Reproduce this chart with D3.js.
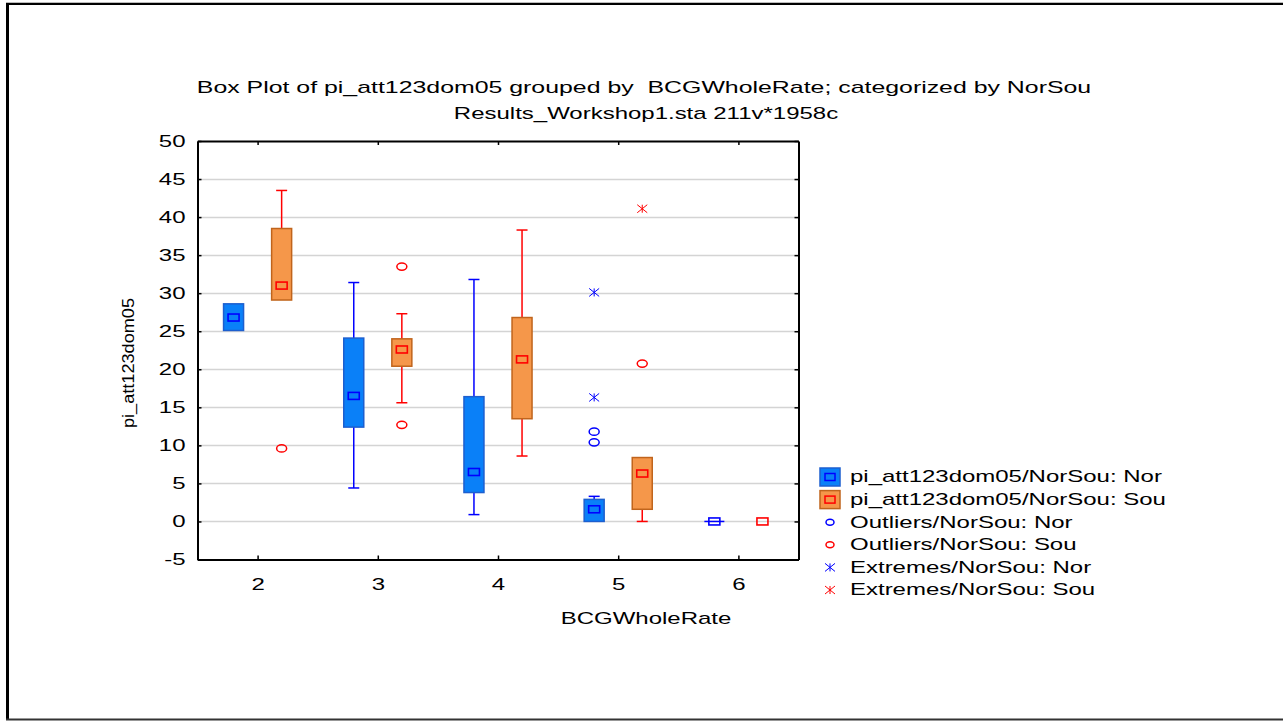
<!DOCTYPE html>
<html>
<head>
<meta charset="utf-8">
<script src="https://cdn.jsdelivr.net/npm/d3@7"></script>
<style>
html,body{margin:0;padding:0;background:#fff;}
svg{display:block;}
text{font-family:"Liberation Sans",Arial,sans-serif;fill:#000;white-space:pre;}
</style>
</head>
<body>
<svg id="chart" width="1283" height="721"></svg>
<script>
// ---------------- data ----------------
const categories = [2, 3, 4, 5, 6];
const yTicks = [-5, 0, 5, 10, 15, 20, 25, 30, 35, 40, 45, 50];

const norMin = [25.1, 4.4, 0.9, 0.0, 0.0];
const norQ1  = [25.1, 12.4, 3.8, 0.0, 0.0];
const norMed = [26.8, 16.5, 6.5, 1.6, 0.0];
const norQ3  = [28.6, 24.1, 16.4, 2.9, 0.0];
const norMax = [28.6, 31.4, 31.8, 3.3, 0.0];

const souMin = [29.1, 15.6, 8.6, 0.0, null];
const souQ1  = [29.1, 20.4, 13.5, 1.6, null];
const souMed = [31.0, 22.6, 21.3, 6.3, 0.0];
const souQ3  = [38.5, 24.0, 26.8, 8.4, null];
const souMax = [43.5, 27.3, 38.3, 8.4, null];

const norOutliers = [[5, 11.8], [5, 10.4]];
const souOutliers = [[2, 9.6], [3, 33.5], [3, 12.7], [5, 20.75]];
const norExtremes = [[5, 30.1], [5, 16.3]];
const souExtremes = [[5, 41.1]];

const titleLines = ["Box Plot of pi_att123dom05 grouped by  BCGWholeRate; categorized by NorSou",
                    "Results_Workshop1.sta 211v*1958c"];
const xTitle = "BCGWholeRate";
const yTitle = "pi_att123dom05";
const legendLabels = ["pi_att123dom05/NorSou: Nor", "pi_att123dom05/NorSou: Sou",
                      "Outliers/NorSou: Nor", "Outliers/NorSou: Sou",
                      "Extremes/NorSou: Nor", "Extremes/NorSou: Sou"];

// ---------------- setup ----------------
const svg = d3.select("#chart");
const SX = 1.5; // horizontal text stretch
const FS = 16;

const x = d3.scaleLinear().domain([1.5, 6.5]).range([197.5, 798.5]);
const y = d3.scaleLinear().domain([-5, 50]).range([559.5, 141]);
const off = 0.2; // group offset in x units
const boxW = 20, capW = 11;

const colors = {
  nor: {fill: "#0a80f8", stroke: "#1d5fcf", line: "#0000ff"},
  sou: {fill: "#f5974a", stroke: "#c0641c", line: "#ff0000"}
};

function stretchText(parent, tx, ty, str, anchor, size, sx) {
  const g = parent.append("g").attr("transform", `translate(${tx},${ty}) scale(${sx || SX},1)`);
  g.append("text").attr("text-anchor", anchor || "start")
    .attr("dominant-baseline", "central")
    .style("font-size", (size || FS) + "px").text(str);
  return g;
}

// outer frame
svg.append("line").attr("x1", 6).attr("x2", 1283).attr("y1", 2.5).attr("y2", 2.5).attr("stroke", "#bbb").attr("stroke-width", 1);
svg.append("line").attr("x1", 6).attr("x2", 1283).attr("y1", 4).attr("y2", 4).attr("stroke", "#000").attr("stroke-width", 2);
svg.append("line").attr("x1", 7.5).attr("x2", 7.5).attr("y1", 3).attr("y2", 720).attr("stroke", "#000").attr("stroke-width", 3);
svg.append("line").attr("x1", 6).attr("x2", 1283).attr("y1", 719.5).attr("y2", 719.5).attr("stroke", "#333").attr("stroke-width", 2);

// gridlines
svg.append("g").selectAll("line").data(yTicks.filter(t => t > -5 && t < 50)).join("line")
  .attr("x1", x(1.5)).attr("x2", x(6.5))
  .attr("y1", d => Math.round(y(d)) + 0.5).attr("y2", d => Math.round(y(d)) + 0.5)
  .attr("stroke", "#d4d4d4").attr("stroke-width", 1.3);

// axes (ticks pointing inward)
const fmt = d => String(d);
const axL = svg.append("g").attr("transform", `translate(${x(1.5)},0)`)
  .call(d3.axisLeft(y).tickValues(yTicks).tickSizeInner(-4).tickSizeOuter(0).tickPadding(12).tickFormat(fmt));
const axR = svg.append("g").attr("transform", `translate(${x(6.5)},0)`)
  .call(d3.axisRight(y).tickValues(yTicks).tickSizeInner(-4).tickSizeOuter(0).tickFormat(""));
const axB = svg.append("g").attr("transform", `translate(0,${y(-5)})`)
  .call(d3.axisBottom(x).tickValues(categories).tickSizeInner(-4).tickSizeOuter(0).tickPadding(18).tickFormat(fmt));
const axT = svg.append("g").attr("transform", `translate(0,${y(50)})`)
  .call(d3.axisTop(x).tickValues(categories).tickSizeInner(-4).tickSizeOuter(0).tickFormat(""));
[axL, axR, axB, axT].forEach(a => {
  a.select(".domain").attr("stroke", "#000").attr("stroke-width", 2);
  a.selectAll(".tick line").attr("stroke", "#000").attr("stroke-width", 1.5);
  a.selectAll("text").style("font-size", FS + "px").attr("font-family", null);
});
axL.selectAll(".tick text").attr("x", -12 / SX).attr("dy", null)
  .attr("dominant-baseline", "central").attr("transform", `scale(${SX},1)`);
axB.selectAll(".tick text").attr("dy", null).attr("y", 25)
  .attr("dominant-baseline", "central").attr("transform", `scale(${SX},1)`);

// titles
stretchText(svg, 644, 87, titleLines[0], "middle", FS, 1.555);
stretchText(svg, 646, 114, titleLines[1], "middle");
stretchText(svg, 646, 619, xTitle, "middle");
svg.append("text").attr("transform", `translate(128,363) rotate(-90)`)
  .attr("text-anchor", "middle").attr("dominant-baseline", "central")
  .attr("textLength", 130).attr("lengthAdjust", "spacingAndGlyphs")
  .style("font-size", FS + "px").text(yTitle);

// ---------------- boxes ----------------
function drawSeries(key, dx, mins, q1s, meds, q3s, maxs) {
  const c = colors[key];
  const g = svg.append("g");
  categories.forEach((cat, i) => {
    const cx = x(cat + dx);
    if (q1s[i] !== null) {
      // whiskers
      if (maxs[i] > q3s[i]) {
        g.append("line").attr("x1", cx).attr("x2", cx).attr("y1", y(q3s[i])).attr("y2", y(maxs[i])).attr("stroke", c.line).attr("stroke-width", 1.5);
        g.append("line").attr("x1", cx - capW / 2).attr("x2", cx + capW / 2).attr("y1", y(maxs[i])).attr("y2", y(maxs[i])).attr("stroke", c.line).attr("stroke-width", 1.5);
      }
      if (mins[i] < q1s[i]) {
        g.append("line").attr("x1", cx).attr("x2", cx).attr("y1", y(q1s[i])).attr("y2", y(mins[i])).attr("stroke", c.line).attr("stroke-width", 1.5);
        g.append("line").attr("x1", cx - capW / 2).attr("x2", cx + capW / 2).attr("y1", y(mins[i])).attr("y2", y(mins[i])).attr("stroke", c.line).attr("stroke-width", 1.5);
      }
      // box
      if (q3s[i] > q1s[i]) {
        g.append("rect").attr("x", cx - boxW / 2).attr("width", boxW)
          .attr("y", y(q3s[i])).attr("height", y(q1s[i]) - y(q3s[i]))
          .attr("fill", c.fill).attr("stroke", c.stroke).attr("stroke-width", 1.5);
      } else {
        g.append("line").attr("x1", cx - boxW / 2).attr("x2", cx + boxW / 2)
          .attr("y1", y(q1s[i])).attr("y2", y(q1s[i]))
          .attr("stroke", c.line).attr("stroke-width", 1.5);
      }
    }
    // median marker
    g.append("rect").attr("x", cx - 5.5).attr("width", 11)
      .attr("y", y(meds[i]) - 3.5).attr("height", 7)
      .attr("fill", "none").attr("stroke", c.line).attr("stroke-width", 1.6);
  });
}
drawSeries("nor", -off, norMin, norQ1, norMed, norQ3, norMax);
drawSeries("sou", off, souMin, souQ1, souMed, souQ3, souMax);

// outliers
function drawOutliers(data, dx, col) {
  svg.append("g").selectAll("ellipse").data(data).join("ellipse")
    .attr("cx", d => x(d[0] + dx)).attr("cy", d => y(d[1]))
    .attr("rx", 5).attr("ry", 3.6).attr("fill", "none").attr("stroke", col).attr("stroke-width", 1.5);
}
drawOutliers(norOutliers, -off, colors.nor.line);
drawOutliers(souOutliers, off, colors.sou.line);

// extremes (asterisk)
function asterisk(g, cx, cy, col) {
  const w = 5, h = 4;
  g.append("path").attr("d",
    `M${cx},${cy - h}V${cy + h}M${cx - w},${cy - h}L${cx + w},${cy + h}M${cx - w},${cy + h}L${cx + w},${cy - h}`)
    .attr("stroke", col).attr("stroke-width", 1).attr("fill", "none");
}
function drawExtremes(data, dx, col) {
  const g = svg.append("g");
  data.forEach(d => asterisk(g, x(d[0] + dx), y(d[1]), col));
}
drawExtremes(norExtremes, -off, colors.nor.line);
drawExtremes(souExtremes, off, colors.sou.line);

// ---------------- legend ----------------
const lg = svg.append("g");
const legY0 = 477, legStep = 22.6, symX = 830, txtX = 850;
legendLabels.forEach((lab, i) => {
  const cy = legY0 + i * legStep;
  if (i < 2) {
    const c = i === 0 ? colors.nor : colors.sou;
    lg.append("rect").attr("x", symX - 10).attr("y", cy - 9).attr("width", 20).attr("height", 18)
      .attr("fill", c.fill).attr("stroke", c.stroke).attr("stroke-width", 1.5);
    lg.append("rect").attr("x", symX - 5).attr("y", cy - 3.5).attr("width", 10).attr("height", 7)
      .attr("fill", "none").attr("stroke", c.line).attr("stroke-width", 1.5);
  } else if (i < 4) {
    lg.append("ellipse").attr("cx", symX).attr("cy", cy).attr("rx", 4).attr("ry", 3)
      .attr("fill", "none").attr("stroke", i === 2 ? colors.nor.line : colors.sou.line).attr("stroke-width", 1.5);
  } else {
    asterisk(lg, symX, cy, i === 4 ? colors.nor.line : colors.sou.line);
  }
  stretchText(lg, txtX, cy, lab, "start");
});
</script>
</body>
</html>
